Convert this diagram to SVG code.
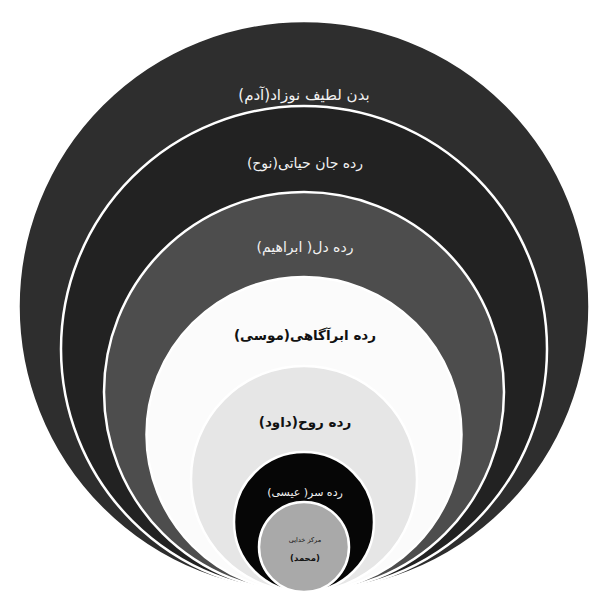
<svg xmlns="http://www.w3.org/2000/svg" width="595" height="605" viewBox="0 0 595 605">
  <style>
    .ring { stroke: #ffffff; stroke-width: 2.5; }
    .lbl { font-family: "DejaVu Sans", "Noto Sans", sans-serif; text-anchor: middle; direction: rtl; unicode-bidi: embed; dominant-baseline: central; }
    .lt { fill: #f2f2f2; }
    .dk { fill: #111111; font-weight: bold; }
  </style>
  <rect width="595" height="605" fill="#ffffff"/>
  <g id="node-adam">
    <circle class="ring" cx="304" cy="306.5" r="285.5" fill="#2e2e2e"/>
    <text class="lbl lt" x="304" y="95" font-size="15">بدن لطیف نوزاد(آدم)</text>
  </g>
  <g id="node-nuh">
    <circle class="ring" cx="304" cy="349" r="243" fill="#222222"/>
    <text class="lbl lt" x="305" y="163" font-size="14">رده جان حیاتی(نوح)</text>
  </g>
  <g id="node-ibrahim">
    <circle class="ring" cx="304" cy="392" r="200" fill="#4d4d4d"/>
    <text class="lbl lt" x="305" y="247" font-size="14">رده دل( ابراهیم)</text>
  </g>
  <g id="node-musa">
    <circle class="ring" cx="304" cy="434.5" r="157.5" fill="#fbfbfb"/>
    <text class="lbl dk" x="305" y="335" font-size="13.5">رده ابرآگاهی(موسی)</text>
  </g>
  <g id="node-davud">
    <circle class="ring" cx="304" cy="479" r="113" fill="#e6e6e6"/>
    <text class="lbl dk" x="305" y="422" font-size="13.5">رده روح(داود)</text>
  </g>
  <g id="node-isa">
    <circle class="ring" cx="304" cy="522" r="70" fill="#060606"/>
    <text class="lbl lt" x="305" y="492" font-size="11">رده سر( عیسی)</text>
  </g>
  <g id="node-muhammad">
    <circle class="ring" cx="304" cy="547" r="45" fill="#a9a9a9"/>
    <text class="lbl" x="305" y="540" font-size="6.5" fill="#111111">مرکز خدایی</text>
    <text class="lbl dk" x="305" y="558" font-size="8.5">(محمد)</text>
  </g>
</svg>
